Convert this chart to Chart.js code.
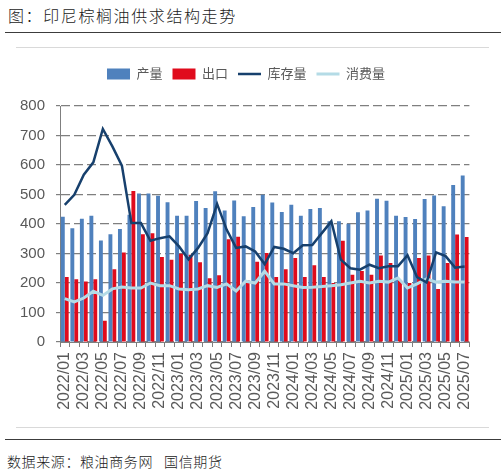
<!DOCTYPE html>
<html lang="zh">
<head>
  <meta charset="UTF-8" />
  <title>印尼棕榈油供求结构走势</title>
  <script src="https://cdn.jsdelivr.net/npm/chart.js"></script>
  <style>
    html, body { margin: 0; padding: 0; background: #fff; }
    body { position: relative; width: 501px; height: 473px; overflow: hidden; font-family: "Noto Sans CJK SC", sans-serif; }
    .title { position: absolute; left: 8px; top: 5px; font-size: 16px; line-height: 20px; letter-spacing: 1.6px; font-weight: 300; color: #1a1a1a; white-space: nowrap; }
    .source { position: absolute; left: 7px; top: 452px; font-size: 14px; line-height: 18px; letter-spacing: 0.6px; font-weight: 300; color: #1a1a1a; white-space: nowrap; }
    .rule { position: absolute; left: 5px; width: 496px; border-top: 1.5px solid #3c3c3c; }
    .frame { position: absolute; left: 16px; width: 473px; border-top: 1px solid #d9d9d9; }
    .chart-box { position: absolute; left: 16px; top: 48px; width: 473px; height: 379px; }
  </style>
</head>
<body>
  <div class="title">图：印尼棕榈油供求结构走势</div>
  <div class="rule" style="top:32px"></div>
  <div class="frame" style="top:47px"></div>
  <div class="chart-box"><canvas id="supplyChart"></canvas></div>
  <div class="frame" style="top:427px"></div>
  <div class="rule" style="top:439px"></div>
  <div class="source">数据来源：粮油商务网&nbsp;&nbsp;&nbsp;国信期货</div>

  <script>
    // 月份
    const months = [
      "2022/01", "2022/02", "2022/03", "2022/04", "2022/05", "2022/06", "2022/07", "2022/08", "2022/09", "2022/10", "2022/11", "2022/12",
      "2023/01", "2023/02", "2023/03", "2023/04", "2023/05", "2023/06", "2023/07", "2023/08", "2023/09", "2023/10", "2023/11", "2023/12",
      "2024/01", "2024/02", "2024/03", "2024/04", "2024/05", "2024/06", "2024/07", "2024/08", "2024/09", "2024/10", "2024/11", "2024/12",
      "2025/01", "2025/02", "2025/03", "2025/04", "2025/05", "2025/06", "2025/07"
    ];

    // 产量 / 出口 / 库存量 / 消费量（万吨）
    const production = [425, 386, 418, 428, 344, 365, 383, 431, 503, 503, 496, 474, 428, 428, 478, 454, 511, 446, 480, 426, 458, 499, 473, 441, 465, 428, 451, 454, 409, 409, 401, 440, 446, 486, 479, 428, 424, 417, 485, 497, 460, 532, 564];
    const exports = [220, 213, 205, 213, 72, 247, 303, 512, 365, 369, 288, 279, 299, 296, 270, 216, 226, 348, 357, 209, 272, 302, 220, 247, 285, 220, 260, 220, 200, 343, 228, 241, 228, 293, 268, 209, 200, 285, 293, 180, 268, 364, 356];
    const inventory = [465, 499, 567, 609, 722, 663, 598, 403, 403, 343, 352, 358, 324, 280, 319, 369, 468, 381, 319, 324, 307, 264, 322, 316, 301, 328, 329, 369, 409, 279, 250, 245, 262, 250, 257, 257, 294, 220, 202, 304, 291, 252, 256];
    const consumption = [147, 136, 149, 172, 158, 180, 186, 183, 183, 200, 191, 191, 180, 177, 180, 191, 185, 197, 173, 206, 200, 240, 197, 197, 191, 185, 186, 188, 191, 194, 200, 206, 200, 206, 203, 217, 183, 197, 214, 203, 206, 203, 203];

    const yTicks = [0, 100, 200, 300, 400, 500, 600, 700, 800];

    const textGrey = "#595959";
    const gridGrey = "#7f7f7f";

    Chart.defaults.font.family = "'Liberation Sans', 'Noto Sans CJK SC', sans-serif";

    // 图例高度固定，让绘图区顶部对齐
    const legendHeight = {
      id: "legendHeight",
      beforeInit(chart) {
        const fit = chart.legend.fit;
        chart.legend.fit = function () {
          fit.call(this);
          this.height = 48.5;
        };
      }
    };

    new Chart(document.getElementById("supplyChart"), {
      type: "bar",
      data: {
        labels: months,
        datasets: [
          { label: "产量", data: production, backgroundColor: "#4f81bd", borderWidth: 0, pointStyle: "rect", order: 2 },
          { label: "出口", data: exports, backgroundColor: "#e00b1c", borderWidth: 0, pointStyle: "rect", order: 2 },
          { type: "line", label: "库存量", data: inventory, borderColor: "#17406d", backgroundColor: "#17406d", borderWidth: 2.5, pointRadius: 0, tension: 0, pointStyle: "line", order: 0 },
          { type: "line", label: "消费量", data: consumption, borderColor: "#b4dbe6", backgroundColor: "#b4dbe6", borderWidth: 3, pointRadius: 0, tension: 0, pointStyle: "line", order: 1 }
        ]
      },
      options: {
        responsive: true,
        maintainAspectRatio: false,
        animation: false,
        categoryPercentage: 0.82,
        barPercentage: 1,
        layout: { padding: { top: 9.5, right: 13, left: 0, bottom: 0 } },
        plugins: {
          tooltip: { enabled: false },
          legend: {
            position: "top",
            labels: {
              usePointStyle: true,
              pointStyleWidth: 23,
              boxHeight: 11,
              padding: 10,
              color: textGrey,
              font: { size: 13 },
              sort: (a, b) => a.datasetIndex - b.datasetIndex
            }
          }
        },
        scales: {
          x: {
            offset: true,
            grid: { display: true, drawOnChartArea: false, tickLength: 5, color: gridGrey },
            border: { color: gridGrey },
            ticks: {
              autoSkip: false,
              maxRotation: 90,
              minRotation: 90,
              padding: 5,
              color: textGrey,
              font: { size: 16 },
              callback: (v, i) => (i % 2 === 0 ? months[i] : "")
            },
            afterFit(scale) { scale.height = 85; }
          },
          y: {
            min: 0,
            max: 800,
            afterBuildTicks(scale) { scale.ticks = yTicks.map(v => ({ value: v })); },
            grid: { color: gridGrey, tickLength: 4, lineWidth: 1.2 },
            border: { color: gridGrey, dash: [9, 4] },
            ticks: { padding: 11, color: textGrey, font: { size: 15 } },
            afterFit(scale) { scale.width = 44; }
          }
        }
      },
      plugins: [legendHeight]
    });
  </script>
</body>
</html>
